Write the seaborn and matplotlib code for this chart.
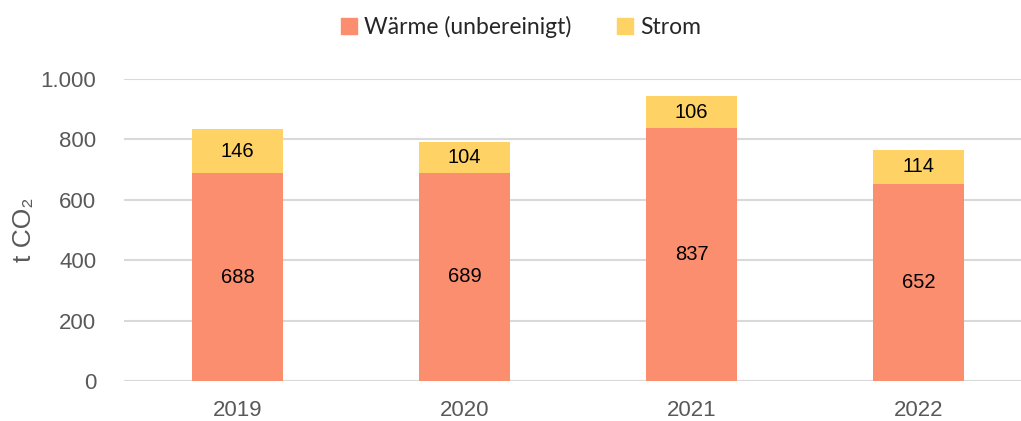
import matplotlib
matplotlib.use('Agg')
import matplotlib.pyplot as plt
import seaborn as sns
import pandas as pd
from matplotlib.patches import Patch

# data
years = ['2019', '2020', '2021', '2022']
waerme = [688, 689, 837, 652]
strom = [146, 104, 106, 114]

col_waerme = '#FA8E6F'
col_strom = '#FFD265'

sns.set_theme(style='white')
plt.rcParams['font.family'] = ['Liberation Sans', 'DejaVu Sans']

df = pd.DataFrame({'Jahr': years, 'Wärme': waerme, 'Strom': strom})
df['Gesamt'] = df['Wärme'] + df['Strom']

fig = plt.figure(figsize=(10.21, 4.21), dpi=100)
ax = fig.add_axes([124 / 1021, 40 / 421, (1021 - 124) / 1021, 302 / 421])

# stacked: total bar in yellow, heat bar on top in orange
sns.barplot(data=df, x='Jahr', y='Gesamt', color=col_strom, width=0.4,
            saturation=1, linewidth=0, ax=ax, zorder=3)
sns.barplot(data=df, x='Jahr', y='Wärme', color=col_waerme, width=0.4,
            saturation=1, linewidth=0, ax=ax, zorder=3)

for i, (w, s) in enumerate(zip(waerme, strom)):
    ax.text(i, w / 2, str(w), ha='center', va='center', fontsize=14.5, color='black', zorder=4)
    ax.text(i, w + s / 2, str(s), ha='center', va='center', fontsize=14.5, color='black', zorder=4)

ax.set_ylim(0, 1000)
ax.set_xlim(-0.5, 3.45)
ax.set_yticks(range(0, 1001, 200))
ax.set_yticklabels(['0', '200', '400', '600', '800', '1.000'])
ax.yaxis.grid(True, color='#D9D9D9', linewidth=1.5, zorder=0)
ax.set_axisbelow(True)
for sp in ax.spines.values():
    sp.set_visible(False)
ax.axhline(0, color='#D9D9D9', linewidth=1.5, zorder=2)

ax.tick_params(axis='both', labelsize=16, colors='#595959', length=0)
ax.tick_params(axis='x', pad=14)
ax.tick_params(axis='y', pad=20)
ax.set_xlabel('')
ax.set_ylabel('t CO₂', fontsize=19, color='#595959', labelpad=3)

handles = [Patch(color=col_waerme, label='Wärme (unbereinigt)'),
           Patch(color=col_strom, label='Strom')]
fig.legend(handles=handles, loc='center', bbox_to_anchor=(0.51, 0.935), ncol=2,
           frameon=False, prop={'family': 'Lato', 'size': 16.5},
           handlelength=0.7, handleheight=0.7, handletextpad=0.3, columnspacing=2.0)

fig.savefig('out.png', dpi=100)
plt.close(fig)
